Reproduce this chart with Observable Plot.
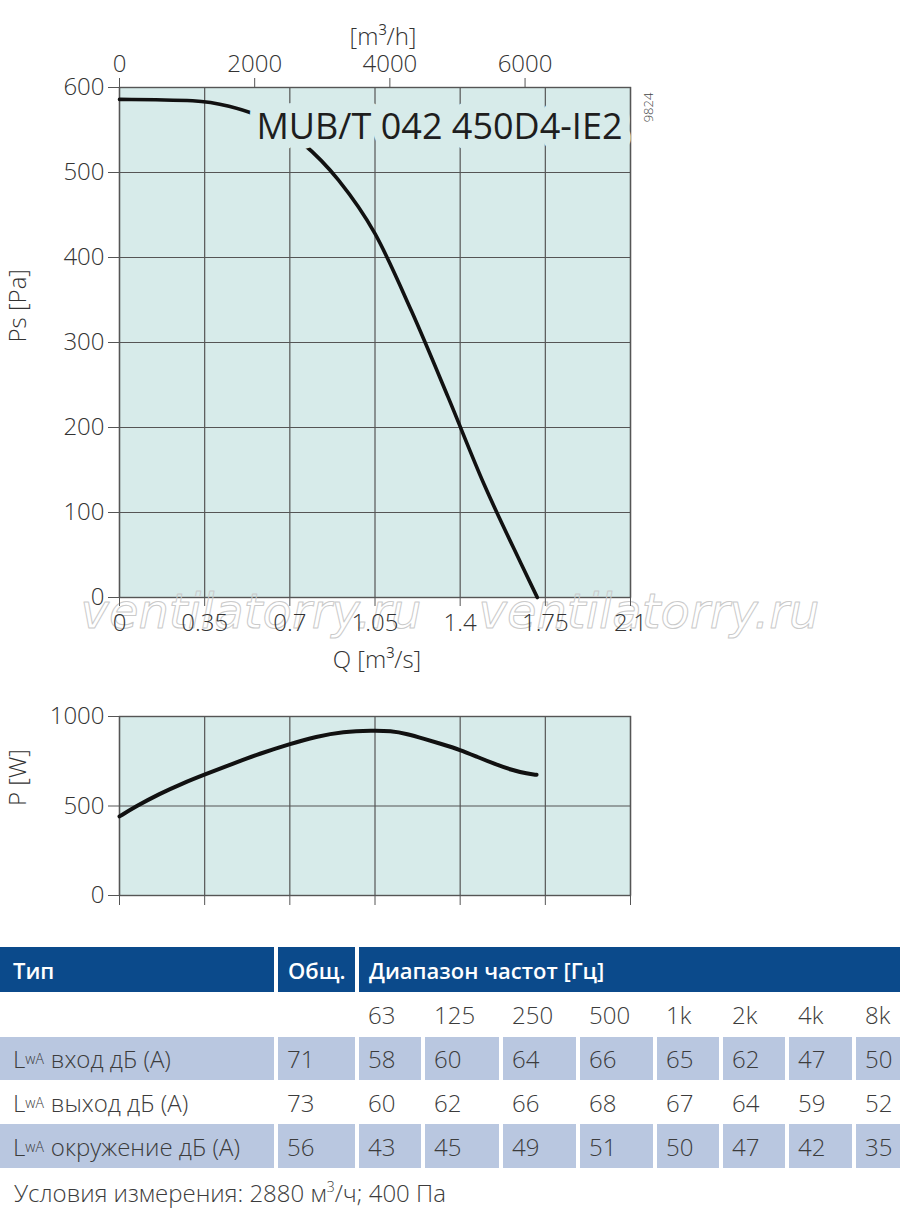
<!DOCTYPE html>
<html>
<head>
<meta charset="utf-8">
<script src="https://cdn.jsdelivr.net/npm/d3@7"></script>
<script src="https://cdn.jsdelivr.net/npm/@observablehq/plot@0.6"></script>
<style>
  html, body { margin: 0; padding: 0; background: #fff; }
  body { width: 900px; height: 1218px; position: relative; overflow: hidden; font-family: "Open Sans", sans-serif; color: #3a3a3a; }
  #topChart { position: absolute; left: 0; top: 0; }
  #bottomChart { position: absolute; left: 0; top: 680px; }
  .tbl { position: absolute; left: 0; top: 947px; width: 900px; overflow: hidden; display: grid;
         grid-template-columns: 274px 77px 62px 74px 73px 73px 62px 62px 63px 60px;
         column-gap: 4px; grid-template-rows: 45px 45px 43px 44px 44px; }
  .c { display: flex; align-items: center; padding-left: 9px; font-size: 24px; font-weight: 300; color: #3c3c3c; white-space: nowrap; }
  .h { background: #0b4a8b; color: #fff; font-weight: 600; font-size: 22px; padding-left: 10px; }
  .h.first { padding-left: 13px; }
  .f { background: #b9c7e0; }
  .name { padding-left: 13px; }
  sub { font-size: 14px; vertical-align: -3px; margin-right: 7px; }
  .foot { position: absolute; left: 14px; top: 1176px; font-size: 24px; font-weight: 300; color: #3c3c3c; }
  sup { font-size: 14px; vertical-align: 10px; line-height: 0; }
</style>
</head>
<body>
<div id="topChart"></div>
<div id="bottomChart"></div>
<div class="tbl" id="tbl"></div>
<div class="foot" id="foot"></div>
<script>
// ---- data ----
// static pressure curve Ps [Pa] vs Q [m3/s]
const qPs = [0, 0.15, 0.3, 0.45, 0.6, 0.75, 0.9, 1.05, 1.2, 1.35, 1.5, 1.65, 1.717];
const ps  = [586, 585.5, 584.5, 578, 563, 535, 491, 428, 337, 236, 132, 40, 0];

// power curve P [W] vs Q [m3/s]
const qP = [0, 0.069, 0.164, 0.26, 0.35, 0.466, 0.575, 0.7, 0.808, 0.918, 1.041, 1.114, 1.183, 1.252, 1.321, 1.4, 1.472, 1.54, 1.609, 1.677, 1.714];
const pW = [442, 499, 568, 627, 676, 736, 792, 847, 888, 916, 922, 920, 903, 875, 847, 814, 773, 736, 702, 680, 674];

const qTicks  = [0, 0.35, 0.7, 1.05, 1.4, 1.75, 2.1];
const qLabels = ["0", "0.35", "0.7", "1.05", "1.4", "1.75", "2.1"];
const m3hTicks = [0, 2000, 4000, 6000];
const psTicks = [0, 100, 200, 300, 400, 500, 600];
const pTicks = [0, 500, 1000];

const modelName = "MUB/T 042 450D4-IE2";
const drawingNo = "9824";
const watermark = "ventilatorry.ru";

const freqBands = ["63", "125", "250", "500", "1k", "2k", "4k", "8k"];
const rowNames = ["вход дБ (A)", "выход дБ (A)", "окружение дБ (A)"];
const totals = [71, 73, 56];
const inletLw   = [58, 60, 64, 66, 65, 62, 47, 50];
const outletLw  = [60, 62, 66, 68, 67, 64, 59, 52];
const ambientLw = [43, 45, 49, 51, 50, 47, 42, 35];
const footnote = "Условия измерения: 2880 м<sup>3</sup>/ч; 400 Па";

// ---- style ----
const BG = "#d7ebea";
const GRID = "#555";
const TXT = "#333";
const font = "'Open Sans', sans-serif";
const FS = 24;

const psPlot = Plot.plot({
  width: 900, height: 680,
  marginLeft: 119, marginRight: 270, marginTop: 87, marginBottom: 83,
  x: {domain: [0, 2.1]},
  y: {domain: [0, 600]},
  style: {fontFamily: font, fontSize: FS + "px", fontWeight: 300, color: TXT, background: "transparent", overflow: "visible"},
  marks: [
    Plot.frame({fill: BG, stroke: null}),
    Plot.gridX(qTicks, {stroke: GRID, strokeOpacity: 1, strokeWidth: 1.2}),
    Plot.gridY(psTicks, {stroke: GRID, strokeOpacity: 1, strokeWidth: 1.2}),
    Plot.frame({stroke: GRID, strokeWidth: 1.4}),
    Plot.text([watermark], {frameAnchor: "bottom-left", dx: -39, dy: 15, textAnchor: "start", lineAnchor: "middle",
      fontSize: 48, fontStyle: "italic", fontFamily: "DejaVu Sans", fill: "none", stroke: "#cacaca", strokeWidth: 1}),
    Plot.text([watermark], {frameAnchor: "bottom-left", dx: 359, dy: 15, textAnchor: "start", lineAnchor: "middle",
      fontSize: 48, fontStyle: "italic", fontFamily: "DejaVu Sans", fill: "none", stroke: "#cacaca", strokeWidth: 1}),
    Plot.axisY(psTicks, {tickSize: 11, tickPadding: 4, label: null, stroke: GRID, fontSize: FS, fill: TXT, tickFormat: d => String(d)}),
    Plot.axisX(qTicks, {anchor: "bottom", tickSize: 9, tickPadding: 7, label: null, stroke: GRID, fontSize: FS, fill: TXT,
      tickFormat: d => qLabels[qTicks.indexOf(d)]}),
    Plot.axisX(m3hTicks.map(v => v / 3600), {anchor: "top", tickSize: 10, tickPadding: 6, label: null, stroke: GRID, fontSize: FS, fill: TXT,
      tickFormat: d => String(Math.round(d * 3600))}),
    Plot.line(qPs.map((q, i) => ({q, p: ps[i]})), {x: "q", y: "p", curve: "monotone-x", stroke: "#111", strokeWidth: 3.6}),
    Plot.text([modelName], {frameAnchor: "top-right", dx: -8, dy: 40, textAnchor: "end", lineAnchor: "middle",
      fontSize: 36, fontWeight: 500, fill: "#1e1e1e", stroke: BG, strokeWidth: 20}),
    Plot.text([drawingNo], {frameAnchor: "top-right", dx: 18, dy: 20, rotate: -90, textAnchor: "middle", lineAnchor: "middle",
      fontSize: 13, fill: "#444"}),
    Plot.text(["[m³/h]"], {frameAnchor: "top", dx: 8, dy: -50, lineAnchor: "middle", fontSize: FS, fill: TXT}),
    Plot.text(["Q [m³/s]"], {frameAnchor: "bottom", dx: 2, dy: 63, lineAnchor: "middle", fontSize: FS, fill: TXT}),
    Plot.text(["Ps [Pa]"], {frameAnchor: "left", dx: -101, rotate: -90, lineAnchor: "middle", fontSize: FS, fill: TXT})
  ]
});
document.getElementById("topChart").append(psPlot);

const pPlot = Plot.plot({
  width: 900, height: 250,
  marginLeft: 119, marginRight: 270, marginTop: 36, marginBottom: 35,
  x: {domain: [0, 2.1]},
  y: {domain: [0, 1000]},
  style: {fontFamily: font, fontSize: FS + "px", fontWeight: 300, color: TXT, background: "transparent", overflow: "visible"},
  marks: [
    Plot.frame({fill: BG, stroke: null}),
    Plot.gridX(qTicks, {stroke: GRID, strokeOpacity: 1, strokeWidth: 1.2}),
    Plot.gridY(pTicks, {stroke: GRID, strokeOpacity: 1, strokeWidth: 1.2}),
    Plot.frame({stroke: GRID, strokeWidth: 1.4}),
    Plot.axisY(pTicks, {tickSize: 11, tickPadding: 4, label: null, stroke: GRID, fontSize: FS, fill: TXT, tickFormat: d => String(d)}),
    Plot.axisX(qTicks, {anchor: "bottom", tickSize: 10, label: null, stroke: GRID, tickFormat: () => ""}),
    Plot.line(qP.map((q, i) => ({q, p: pW[i]})), {x: "q", y: "p", curve: "basis", stroke: "#111", strokeWidth: 4}),
    Plot.text(["P [W]"], {frameAnchor: "left", dx: -101, rotate: -90, lineAnchor: "middle", fontSize: FS, fill: TXT})
  ]
});
document.getElementById("bottomChart").append(pPlot);

// ---- table ----
const tbl = document.getElementById("tbl");
function cell(html, cls, span) {
  const d = document.createElement("div");
  d.className = "c " + (cls || "");
  d.innerHTML = html;
  if (span) d.style.gridColumn = span;
  tbl.append(d);
}
cell("Тип", "h first");
cell("Общ.", "h");
cell("Диапазон частот [Гц]", "h", "3 / span 8");
cell("", "");
cell("", "");
freqBands.forEach(f => cell(f, ""));
const rowsVals = [inletLw, outletLw, ambientLw];
rowNames.forEach((n, r) => {
  const cls = r % 2 === 0 ? "f" : "";
  cell("L<sub>wA</sub>" + n, cls + " name");
  cell(String(totals[r]), cls);
  rowsVals[r].forEach(v => cell(String(v), cls));
});
document.getElementById("foot").innerHTML = footnote;
</script>
</body>
</html>
